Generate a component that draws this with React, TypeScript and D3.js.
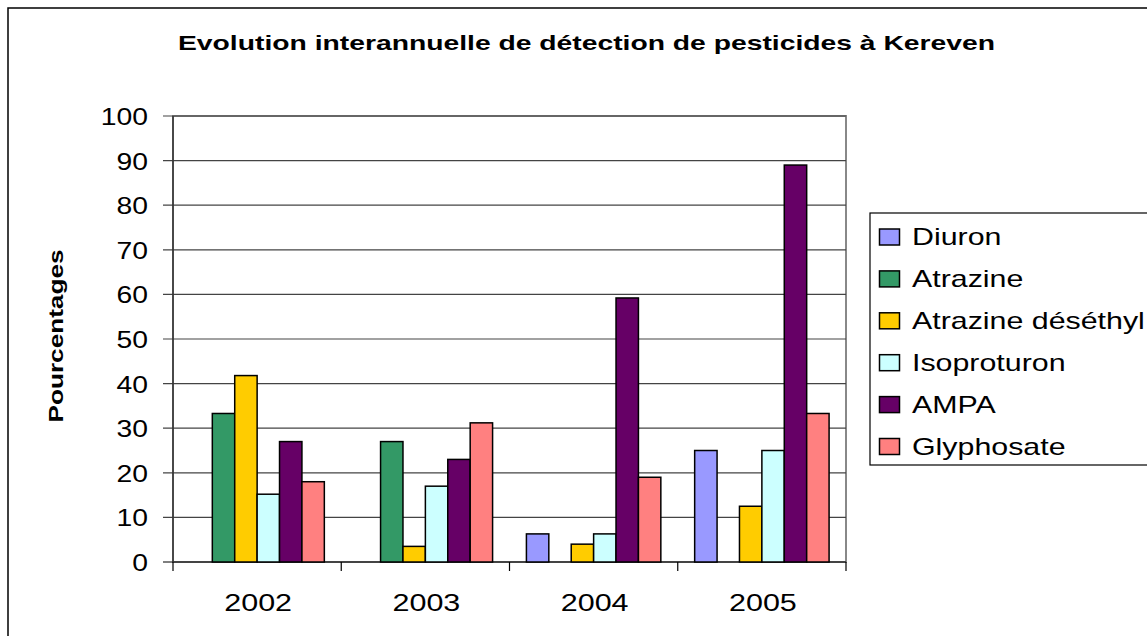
import React from 'react';
import * as d3 from 'd3';

const years = ['2002', '2003', '2004', '2005'];
const seriesNames = ['Diuron', 'Atrazine', 'Atrazine déséthyl', 'Isoproturon', 'AMPA', 'Glyphosate'];
const seriesColors = ['#9999FF', '#339966', '#FFCC00', '#CCFFFF', '#660066', '#FF8080'];

const diuron = [0, 0, 6.3, 25];
const atrazine = [33.3, 27, 0, 0];
const atrazineDes = [41.8, 3.5, 4, 12.5];
const isoproturon = [15.2, 17, 6.3, 25];
const ampa = [27, 23, 59.2, 89];
const glyphosate = [18, 31.2, 19, 33.3];
const seriesValues = [diuron, atrazine, atrazineDes, isoproturon, ampa, glyphosate];

const yTicks = [0, 10, 20, 30, 40, 50, 60, 70, 80, 90, 100];

const FONT = '"Liberation Sans", Arial, sans-serif';

export default function App() {
  const left = 173, right = 846, top = 116, bottom = 562;

  const y = d3.scaleLinear().domain([0, 100]).range([bottom, top]);
  const x0 = d3.scaleBand().domain(years).range([left, right]).padding(0);
  const x1 = d3.scaleBand().domain(seriesNames).range([0, x0.bandwidth()])
    .paddingInner(0).paddingOuter(0.755);

  return (
    <svg width={1147} height={636} style={{ position: 'absolute', left: 0, top: 0, background: '#fff' }}>
      <rect x={8} y={8} width={1160} height={650} fill="#fff" stroke="#000" strokeWidth={1.5} />

      <text x={178} y={50} fontFamily={FONT} fontWeight="bold" fontSize={21}
        textLength={817} lengthAdjust="spacingAndGlyphs">
        Evolution interannuelle de détection de pesticides à Kereven
      </text>

      {/* plot area */}
      <rect x={left} y={top} width={right - left} height={bottom - top} fill="#fff" stroke="#888" strokeWidth={2} />
      {yTicks.map(t => (
        <g key={t}>
          <line x1={163} x2={right} y1={y(t)} y2={y(t)} stroke={t === 0 ? '#000' : '#444'} strokeWidth={1.2} />
          <text transform={`translate(148,${y(t) + 9}) scale(1.23,1)`} textAnchor="end"
            fontFamily={FONT} fontSize={23}>{t}</text>
        </g>
      ))}
      <line x1={left} x2={left} y1={top} y2={bottom} stroke="#333" strokeWidth={1.5} />
      {years.map(yr => (
        <line key={yr} x1={x0(yr)!} x2={x0(yr)!} y1={bottom} y2={bottom + 9} stroke="#000" strokeWidth={1.2} />
      ))}
      <line x1={right} x2={right} y1={bottom} y2={bottom + 9} stroke="#000" strokeWidth={1.2} />

      {seriesNames.map((s, si) => (
        <g key={s}>
          {years.map((yr, i) => {
            const v = seriesValues[si][i];
            if (!v) return null;
            return (
              <rect key={yr} x={x0(yr)! + x1(s)!} y={y(v)} width={x1.bandwidth()} height={bottom - y(v)}
                fill={seriesColors[si]} stroke="#000" strokeWidth={1.5} />
            );
          })}
        </g>
      ))}

      {years.map(yr => (
        <text key={yr} transform={`translate(${x0(yr)! + x0.bandwidth() / 2 + 1},611) scale(1.27,1)`}
          textAnchor="middle" fontFamily={FONT} fontSize={24}>{yr}</text>
      ))}

      <text transform="translate(63,336) rotate(-90)" textAnchor="middle" fontFamily={FONT}
        fontWeight="bold" fontSize={21} textLength={173} lengthAdjust="spacingAndGlyphs">Pourcentages</text>

      {/* legend */}
      <rect x={870} y={213} width={300} height={252} fill="#fff" stroke="#000" strokeWidth={1.2} />
      {seriesNames.map((s, i) => {
        const cy = 237 + i * 41.9;
        return (
          <g key={s}>
            <rect x={879.5} y={cy - 8} width={20} height={16} fill={seriesColors[i]} stroke="#000" strokeWidth={1.5} />
            <text transform={`translate(912,${cy + 8.3}) scale(1.32,1)`} fontFamily={FONT} fontSize={23}>{s}</text>
          </g>
        );
      })}
    </svg>
  );
}
